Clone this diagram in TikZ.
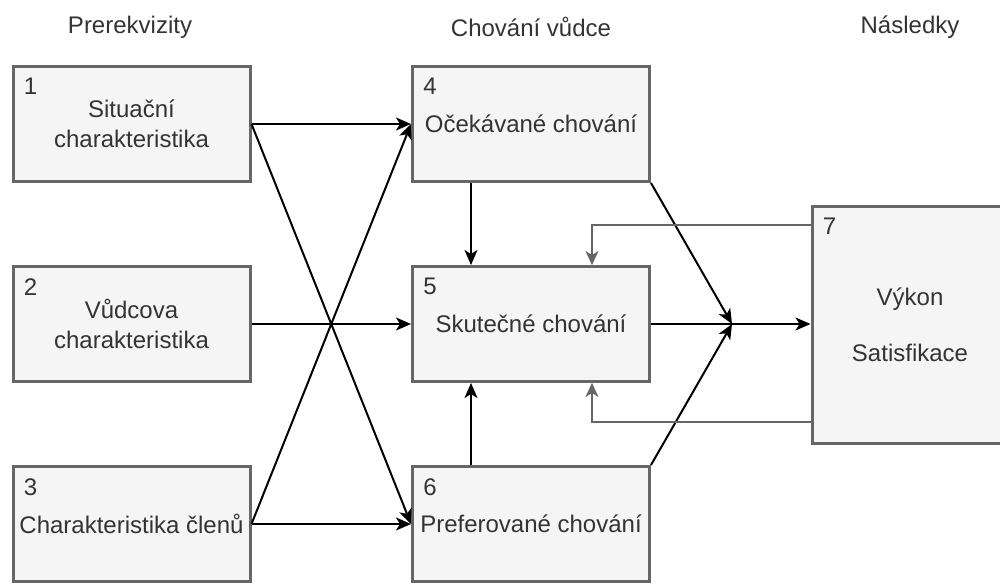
\documentclass[tikz,border=0pt]{standalone}
\usepackage{fontspec}
\setmainfont{Liberation Sans}
\usetikzlibrary{arrows.meta}
\definecolor{boxfill}{HTML}{F5F5F5}
\definecolor{boxline}{HTML}{666666}
\definecolor{txt}{HTML}{333333}
\begin{document}
\begin{tikzpicture}[x=0.5pt,y=-0.5pt,
  every node/.style={font=\fontsize{12}{15}\selectfont, text=txt},
  box/.style={draw=boxline, fill=boxfill, line width=1.5pt, minimum width=118.5pt, minimum height=57.5pt, inner sep=0pt, align=center},
  bigbox/.style={box, minimum width=98pt, minimum height=118.5pt},
  num/.style={anchor=north west, inner sep=0pt},
  hdr/.style={inner sep=0pt},
  arr/.style={line width=1pt, draw=black, -{Stealth[length=7.5pt,width=6.5pt,inset=2pt]}},
  fb/.style={line width=0.75pt, draw=boxline, -{Stealth[length=7pt,width=6.5pt,inset=2pt]}}]
\useasboundingbox (0,0) rectangle (1000,584);
\clip (0,0) rectangle (1000,584);
% headers
\node[hdr] (h1) at (130,27) {Prerekvizity};
\node[hdr] (h2) at (531,27) {Chování vůdce};
\node[hdr] (h3) at (910,27) {Následky};
% boxes
\node[box] (b1) at (131.5,124) {Situační\\charakteristika};
\node[box] (b2) at (131.5,324) {Vůdcova\\charakteristika};
\node[box] (b3) at (131.5,524) {Charakteristika členů};
\node[box] (b4) at (531,124) {Očekávané chování};
\node[box] (b5) at (531,324) {Skutečné chování};
\node[box] (b6) at (531,524) {Preferované chování};
\node[bigbox] (b7) at (910,325) {Výkon\\[13pt]Satisfikace};
% numbers
\foreach \b/\n in {b1/1,b2/2,b3/3,b4/4,b5/5,b6/6,b7/7}
  \node[num] (n\n) at ([shift={(6pt,-6.5pt)}]\b.north west) {\n};
% coordinates
\coordinate (v) at (471,0);
\coordinate (f1) at (592,225);
\coordinate (f2) at (592,422);
\coordinate (J) at (732,324);
% connectors
\draw[arr] (b1.east) -- (b4.west);
\draw[arr] (b1.east) -- (b6.west);
\draw[arr] (b2.east) -- (b5.west);
\draw[arr] (b3.east) -- (b4.west);
\draw[arr] (b3.east) -- (b6.west);
\draw[arr] (b4.south -| v) -- (b5.north -| v);
\draw[arr] (b6.north -| v) -- (b5.south -| v);
\draw[arr] (b5.east) -- (b7.west |- b5.east);
\draw[arr] (b4.south east) -- (J);
\draw[arr] (b6.north east) -- (J);
\draw[fb] (b7.west |- f1) -| (b5.north -| f1);
\draw[fb] (b7.west |- f2) -| (b5.south -| f2);
\end{tikzpicture}
\end{document}
